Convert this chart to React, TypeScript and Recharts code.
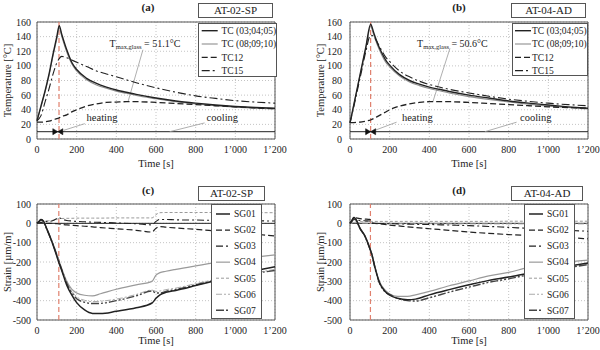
import React from "react";
import {
  LineChart,
  Line,
  XAxis,
  YAxis,
  CartesianGrid,
  Legend,
  ReferenceLine,
  ReferenceArea,
  ReferenceDot,
  Label,
} from "recharts";

const FONT = '"Liberation Serif", "Times New Roman", Times, "Nimbus Roman", "DejaVu Serif", serif';

const TIME_TICKS = [0, 200, 400, 600, 800, 1000, 1200];
const TEMP_TICKS = [0, 20, 40, 60, 80, 100, 120, 140, 160];
const STRAIN_TICKS = [-500, -400, -300, -200, -100, 0, 100];

// (a) AT-02-SP temperatures [°C]
const timeA = [0, 20, 40, 60, 80, 100, 112, 125, 150, 175, 200, 250, 300, 350, 400, 450, 500, 600, 700, 800, 900, 1000, 1100, 1200];
const tc030405A = [25, 45, 65, 88, 115, 140, 155, 143, 122, 105, 95, 83, 76, 71, 67, 64, 61, 56, 52, 49, 46.5, 44.5, 43, 42];
const tc080910A = [25, 44, 64, 86, 113, 137, 152, 140, 119, 103, 93, 81, 74, 69.5, 65.5, 62.5, 59.5, 55, 51, 48, 45.5, 43.5, 42, 41];
const tc12A = [23, 23, 23.5, 24.5, 26, 28, 29, 31, 33, 37, 40, 45, 48, 50, 50.5, 51, 51, 50, 48.5, 47, 45.5, 44, 42.5, 41.5];
const tc15A = [25, 32, 50, 68, 88, 104, 110, 113, 111, 108, 105, 99, 93, 89, 85, 81, 77, 70, 64, 59, 55.5, 52.5, 50.5, 49];

// (b) AT-04-AD temperatures [°C]
const timeB = [0, 20, 40, 60, 80, 104, 120, 140, 160, 180, 200, 250, 300, 350, 400, 450, 500, 600, 700, 800, 900, 1000, 1100, 1200];
const tc030405B = [22, 48, 74, 100, 126, 157, 145, 130, 118, 108, 101, 88, 80, 75, 71, 68, 65, 60, 56, 52, 49, 46.5, 44, 42];
const tc080910B = [22, 47, 73, 99, 124, 154, 142, 127, 115, 105, 98.5, 86, 78, 73, 69, 66, 63, 58, 54, 50.5, 47.5, 45, 43, 41];
const tc12B = [22.5, 22.5, 23, 23.5, 24.5, 26, 28, 31, 34, 37, 40, 45, 48, 50, 51, 51, 51, 50, 48.5, 47, 45.5, 44, 43, 42];
const tc15B = [22, 45, 70, 95, 120, 142, 140, 131, 121, 112, 106, 93, 85, 79, 74.5, 71, 68, 63, 58.5, 54.5, 51.5, 49, 47, 45.5];

// (c) AT-02-SP strains [µm/m]
const timeC = [0, 10, 20, 30, 50, 75, 100, 110, 125, 150, 175, 200, 240, 280, 320, 400, 500, 580, 600, 620, 650, 700, 800, 900, 1000, 1100, 1200];
const sg01C = [0, 10, 20, 15, -30, -95, -170, -203, -245, -320, -370, -410, -448, -466, -467, -455, -437, -412, -388, -370, -357, -347, -322, -296, -270, -246, -225];
const sg02C = [0, 2, 5, 3, 0, 0, -2, -3, -5, -8, -10, -12, -15, -18, -22, -28, -36, -45, -25, -17, -20, -24, -31, -39, -47, -56, -65];
const sg03C = [0, 8, 18, 15, 10, 12, 25, 30, 22, 15, 12, 10, 8, 6, 5, 2, -2, -8, 10, 20, 20, 18, 17, 15, 14, 13, 12];
const sg04C = [0, 8, 18, 12, -30, -90, -160, -190, -235, -300, -340, -360, -372, -375, -364, -341, -318, -300, -268, -255, -248, -238, -220, -203, -188, -175, -163];
const sg05C = [0, 3, 8, 10, 12, 15, 20, 25, 25, 26, 26, 27, 27, 27, 27, 28, 28, 28, 45, 55, 56, 56, 56, 56, 56, 55, 55];
const sg06C = [0, 8, 17, 12, -32, -95, -165, -195, -238, -305, -350, -380, -398, -405, -403, -392, -368, -345, -352, -350, -343, -335, -312, -290, -270, -255, -238];
const sg07C = [0, 8, 18, 12, -32, -95, -165, -195, -240, -310, -358, -390, -408, -415, -414, -400, -375, -350, -360, -360, -352, -342, -318, -295, -273, -258, -244];

// (d) AT-04-AD strains [µm/m]
const timeD = [0, 10, 20, 30, 50, 75, 100, 110, 125, 150, 175, 200, 240, 290, 330, 400, 500, 600, 700, 800, 900, 1000, 1100, 1200];
const sg01D = [0, 15, 30, 20, -25, -65, -130, -160, -225, -310, -350, -372, -388, -395, -392, -370, -343, -318, -295, -278, -258, -240, -222, -205];
const sg02D = [0, 15, 30, 28, 24, 22, 20, 2, 0, -3, -6, -9, -13, -18, -22, -28, -36, -45, -52, -58, -63, -68, -74, -80];
const sg03D = [0, 10, 20, 18, 15, 13, 12, 0, 0, -1, -1.5, -2, -3, -4, -5, -6, -9, -12, -16, -21, -26, -31, -36, -41];
const sg04D = [0, 15, 30, 20, -25, -65, -128, -158, -220, -305, -343, -365, -378, -378, -370, -352, -323, -298, -272, -254, -228, -212, -200, -190];
const sg05D = [0, 3, 6, 7, 8, 9, 10, 10, 10, 10, 10, 10, 10, 10, 10, 10, 10, 10, 10, 11, 11, 11, 11, 11];
const sg06D = [0, 2, 4, 3, 2, 1, 0, -1, -1, -1, -1, -2, -2, -2, -2, -2, -3, -3, -3, -3, -3, -3, -3, -3];
const sg07D = [0, 15, 30, 20, -26, -67, -132, -162, -227, -312, -352, -368, -388, -400, -402, -385, -356, -330, -305, -287, -266, -248, -230, -213];

const rowsA = timeA.map((t, i) => ({ t, tc1: tc030405A[i], tc2: tc080910A[i], tc12: tc12A[i], tc15: tc15A[i] }));
const rowsB = timeB.map((t, i) => ({ t, tc1: tc030405B[i], tc2: tc080910B[i], tc12: tc12B[i], tc15: tc15B[i] }));
const rowsC = timeC.map((t, i) => ({ t, sg01: sg01C[i], sg02: sg02C[i], sg03: sg03C[i], sg04: sg04C[i], sg05: sg05C[i], sg06: sg06C[i], sg07: sg07C[i] }));
const rowsD = timeD.map((t, i) => ({ t, sg01: sg01D[i], sg02: sg02D[i], sg03: sg03D[i], sg04: sg04D[i], sg05: sg05D[i], sg06: sg06D[i], sg07: sg07D[i] }));

type Style = { key: string; name: string; color: string; width: number; dash?: string };

const TC_SERIES: Style[] = [
  { key: "tc1", name: "TC (03;04;05)", color: "#222", width: 1.4 },
  { key: "tc2", name: "TC (08;09;10)", color: "#8f8f8f", width: 1.1 },
  { key: "tc12", name: "TC12", color: "#222", width: 1.3, dash: "6 3" },
  { key: "tc15", name: "TC15", color: "#222", width: 1.1, dash: "8 3 2 3" },
];
const TC_DRAW = ["tc2", "tc12", "tc15", "tc1"];

const SG_SERIES: Style[] = [
  { key: "sg01", name: "SG01", color: "#222", width: 1.5 },
  { key: "sg02", name: "SG02", color: "#222", width: 1.2, dash: "6 3" },
  { key: "sg03", name: "SG03", color: "#222", width: 1.1, dash: "7 3 2 3" },
  { key: "sg04", name: "SG04", color: "#9a9a9a", width: 1.2 },
  { key: "sg05", name: "SG05", color: "#9a9a9a", width: 1, dash: "3 2" },
  { key: "sg06", name: "SG06", color: "#aaaaaa", width: 1, dash: "6 2 2 2" },
  { key: "sg07", name: "SG07", color: "#444", width: 1.4, dash: "8 2 2 2 2 2" },
];
const SG_DRAW = ["sg05", "sg06", "sg04", "sg02", "sg03", "sg07", "sg01"];

const fmtTime = (v: number) =>
  v >= 1000 ? `${Math.floor(v / 1000)}\u2019${String(v % 1000).padStart(3, "0")}` : String(v);

const note = (text: string) => (props: any) => (
  <text x={props.cx} y={props.cy} fontSize={10.5} fill="#222" fontFamily={FONT}>{text}</text>
);

const tMaxNote = (val: string) => (props: any) => (
  <text x={props.cx} y={props.cy} fontSize={10} fill="#222" fontFamily={FONT}>
    T<tspan fontSize={6.5} dy={2}>max,glass</tspan>
    <tspan dy={-2}>{` = ${val}°C`}</tspan>
  </text>
);

const bowtie = (props: any) => {
  const { cx, cy } = props;
  return (
    <path
      d={`M${cx - 5},${cy - 3}L${cx},${cy}L${cx - 5},${cy + 3}ZM${cx + 5},${cy - 3}L${cx},${cy}L${cx + 5},${cy + 3}Z`}
      fill="#111"
      stroke="#111"
      strokeWidth={0.6}
    />
  );
};

type Box = { left: number; top: number; w: number; h: number; rowTop: number; rowGap: number; sx: number; sl: number; tx: number; fs: number };

function LegendBox({ items, b }: { items: Style[]; b: Box }) {
  return (
    <svg width={b.w} height={b.h} style={{ display: "block" }}>
      <rect x={0.5} y={0.5} width={b.w - 1} height={b.h - 1} fill="#fff" stroke="#555" />
      {items.map((s, i) => {
        const y = b.rowTop + i * b.rowGap;
        return (
          <g key={s.key}>
            <line x1={b.sx} x2={b.sx + b.sl} y1={y} y2={y} stroke={s.color} strokeWidth={s.width} strokeDasharray={s.dash} />
            <text x={b.tx} y={y} dy="0.35em" fontSize={b.fs} fill="#222" fontFamily={FONT}>{s.name}</text>
          </g>
        );
      })}
    </svg>
  );
}

type PanelProps = {
  left: number;
  top: number;
  data: any[];
  series: Style[];
  draw: string[];
  yDomain: [number, number];
  yTicks: number[];
  yLabel: string;
  mt: number;
  mb: number;
  xlo: number;
  ytm: number;
  legend: Box;
  extras: React.ReactNode[];
};

function Panel(p: PanelProps) {
  const tick = { fontSize: 10, fill: "#222", fontFamily: FONT };
  return (
    <div style={{ position: "absolute", left: p.left, top: p.top, width: 300, height: 175 }}>
      <LineChart width={300} height={175} data={p.data} margin={{ top: p.mt, right: 25, bottom: p.mb, left: 0 }}>
        <CartesianGrid stroke="#c4c4c4" strokeDasharray="1 2" />
        <XAxis dataKey="t" type="number" domain={[0, 1200]} ticks={TIME_TICKS} tickFormatter={fmtTime} interval={0}
          axisLine={false} tickLine={false} tickMargin={1} tick={tick}>
          <Label value="Time [s]" position="insideBottom" offset={p.xlo} style={{ fontSize: 10.5, fill: "#222", fontFamily: FONT }} />
        </XAxis>
        <YAxis type="number" domain={p.yDomain} ticks={p.yTicks} width={37} interval={0}
          axisLine={false} tickLine={false} tickMargin={p.ytm} tick={tick}>
          <Label value={p.yLabel} angle={-90} position="insideLeft" offset={7}
            style={{ textAnchor: "middle", fontSize: 10.5, fill: "#222", fontFamily: FONT }} />
        </YAxis>
        <ReferenceArea x1={0} x2={1200} y1={p.yDomain[0]} y2={p.yDomain[1]} fill="none" stroke="#555" strokeWidth={1} />
        {p.extras}
        {p.draw.map((k) => {
          const s = p.series.find((x) => x.key === k)!;
          return (
            <Line key={k} type="monotone" dataKey={k} name={s.name} stroke={s.color} strokeWidth={s.width}
              strokeDasharray={s.dash} dot={false} activeDot={false} isAnimationActive={false} />
          );
        })}
        <Legend layout="horizontal" align="center" verticalAlign="middle"
          wrapperStyle={{ left: p.legend.left, top: p.legend.top, width: p.legend.w, height: p.legend.h }}
          content={() => <LegendBox items={p.series} b={p.legend} />} />
      </LineChart>
    </div>
  );
}

const RED = "#e0806e";
const LEAD = "#9a9a9a";

function tempExtras(red: number, bow: number, tmax: string, tText: [number, number], tLead: [number, number, number, number],
  heat: [number, number], hLead: [number, number, number, number], cool: [number, number], cLead: [number, number, number, number]) {
  return [
    <ReferenceLine key="base" y={10} stroke="#222" strokeWidth={1} />,
    <ReferenceLine key="red" x={red} stroke={RED} strokeDasharray="5 3" strokeWidth={1.2} />,
    <ReferenceLine key="l1" segment={[{ x: tLead[0], y: tLead[1] }, { x: tLead[2], y: tLead[3] }]} stroke={LEAD} strokeWidth={0.8} />,
    <ReferenceLine key="l2" segment={[{ x: hLead[0], y: hLead[1] }, { x: hLead[2], y: hLead[3] }]} stroke={LEAD} strokeWidth={0.8} />,
    <ReferenceLine key="l3" segment={[{ x: cLead[0], y: cLead[1] }, { x: cLead[2], y: cLead[3] }]} stroke={LEAD} strokeWidth={0.8} />,
    <ReferenceDot key="bow" x={bow} y={10} shape={bowtie} />,
    <ReferenceDot key="n1" x={tText[0]} y={tText[1]} shape={tMaxNote(tmax)} />,
    <ReferenceDot key="n2" x={heat[0]} y={heat[1]} shape={note("heating")} />,
    <ReferenceDot key="n3" x={cool[0]} y={cool[1]} shape={note("cooling")} />,
  ];
}

function strainExtras(red: number) {
  return [
    <ReferenceLine key="zero" y={0} stroke="#222" strokeWidth={1} />,
    <ReferenceLine key="red" x={red} stroke={RED} strokeDasharray="5 3" strokeWidth={1.2} />,
  ];
}

function Title({ tag, name, y, tagX, boxX, boxY, boxW, boxH }: any) {
  return (
    <>
      <div style={{ position: "absolute", left: tagX - 15, top: y - 7, width: 30, lineHeight: "14px", textAlign: "center", fontSize: 11, fontWeight: "bold" }}>{tag}</div>
      <div style={{ position: "absolute", left: boxX, top: boxY, width: boxW, height: boxH, boxSizing: "border-box", border: "1px solid #555",
        fontSize: 11, lineHeight: `${boxH - 2}px`, textAlign: "center", background: "#fff" }}>{name}</div>
    </>
  );
}

const LEG_T: Box = { left: 198, top: 23, w: 79, h: 54, rowTop: 7.7, rowGap: 13.3, sx: 3.7, sl: 16, tx: 23.5, fs: 9.5 };
const LEG_S: Box = { left: 211, top: 29, w: 51, h: 115, rowTop: 10, rowGap: 16.05, sx: 5, sl: 14, tx: 23, fs: 9.5 };

export default function App() {
  return (
    <div style={{ position: "absolute", left: 0, top: 0, width: 600, height: 350, background: "#fff", fontFamily: FONT, color: "#222" }}>
      <Panel left={0} top={0} data={rowsA} series={TC_SERIES} draw={TC_DRAW} yDomain={[0, 160]} yTicks={TEMP_TICKS}
        yLabel="Temperature [°C]" mt={22} mb={6} xlo={2.5} ytm={0} legend={LEG_T}
        extras={tempExtras(111, 105, "51.1", [366, 126], [534, 122, 459, 51], [250, 24], [241, 21, 136, 12], [855, 24], [845, 22, 669, 10])} />
      <Panel left={313} top={0} data={rowsB} series={TC_SERIES} draw={TC_DRAW} yDomain={[0, 160]} yTicks={TEMP_TICKS}
        yLabel="Temperature [°C]" mt={22} mb={6} xlo={2.5} ytm={2} legend={{ ...LEG_T, left: 199, w: 76, h: 53, sx: 3, tx: 20 }}
        extras={tempExtras(104, 104, "50.6", [338, 126], [504, 124, 418, 51], [262, 24], [235, 23, 117, 11], [857, 24], [840, 23, 680, 10])} />
      <Panel left={0} top={175} data={rowsC} series={SG_SERIES} draw={SG_DRAW} yDomain={[-500, 100]} yTicks={STRAIN_TICKS}
        yLabel="Strain [µm/m]" mt={29} mb={0} xlo={6} ytm={0} legend={LEG_S} extras={strainExtras(110)} />
      <Panel left={313} top={175} data={rowsD} series={SG_SERIES} draw={SG_DRAW} yDomain={[-500, 100]} yTicks={STRAIN_TICKS}
        yLabel="Strain [µm/m]" mt={29} mb={0} xlo={6} ytm={2} legend={LEG_S} extras={strainExtras(103)} />
      <Title tag="(a)" name="AT-02-SP" y={7} tagX={148} boxX={198} boxY={3} boxW={75} boxH={15} />
      <Title tag="(b)" name="AT-04-AD" y={7} tagX={459} boxX={511} boxY={3} boxW={75} boxH={15} />
      <Title tag="(c)" name="AT-02-SP" y={190} tagX={148} boxX={198} boxY={186} boxW={67} boxH={15} />
      <Title tag="(d)" name="AT-04-AD" y={190} tagX={459} boxX={511} boxY={186} boxW={72} boxH={15} />
    </div>
  );
}
